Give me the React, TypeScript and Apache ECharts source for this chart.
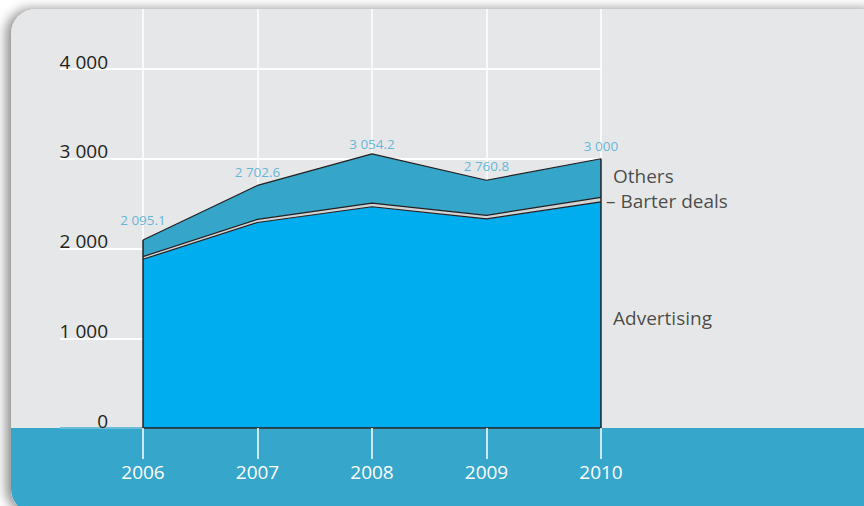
import React, { useEffect, useRef } from "react";
import * as echarts from "echarts";

const years = ["2006", "2007", "2008", "2009", "2010"];
const totals = [2095.1, 2702.6, 3054.2, 2760.8, 3000];
const advertising = [1880, 2290, 2465, 2330, 2520];
const barter = [30, 35, 40, 40, 50];
const others = totals.map((t, i) => +(t - advertising[i] - barter[i]).toFixed(1));
const seriesNames = ["Advertising", "– Barter deals", "Others"];

const fmt = (v: number) => {
  const [i, d] = String(v).split(".");
  return i.replace(/\B(?=(\d{3})+(?!\d))/g, " ") + (d ? "." + d : "");
};

const FONT = "'Open Sans', 'DejaVu Sans', sans-serif";
const DARK = "#231f20";
const labelDistances = [13, 6, 3, 7, 6];
const nameOffsets = [[0, 3], [0, 1], [0, -2]];

export default function App() {
  const ref = useRef<HTMLDivElement>(null);
  useEffect(() => {
    if (!ref.current) return;
    const chart = echarts.init(ref.current, undefined, { renderer: "svg" });
    const last = years.length - 1;
    const mid = [
      advertising[last] / 2,
      advertising[last] + barter[last] / 2,
      advertising[last] + barter[last] + others[last] / 2,
    ];
    chart.setOption({
      animation: false,
      backgroundColor: "#ffffff",
      textStyle: { fontFamily: FONT },
      graphic: [
        {
          type: "rect",
          z: -10,
          shape: { x: 11, y: 9, width: 870, height: 505, r: [25, 12, 0, 25] },
          style: {
            fill: "#e6e7e8",
            shadowBlur: 12,
            shadowOffsetX: -5,
            shadowOffsetY: 0,
            shadowColor: "rgba(0,0,0,0.45)",
          },
        },
        {
          type: "rect",
          z: -9,
          shape: { x: 11, y: 428, width: 870, height: 86, r: [0, 0, 0, 25] },
          style: { fill: "#37a6cb" },
        },
      ],
      grid: [
        { left: 143, width: 458, top: 69, height: 359 },
        { left: 60, width: 541, top: 69, height: 359 },
        { left: 143, width: 458, top: 9, height: 419 },
      ],
      xAxis: [
        {
          type: "category",
          gridIndex: 0,
          data: years,
          boundaryGap: false,
          axisLine: { show: true, lineStyle: { color: DARK, width: 1.5 } },
          axisTick: { show: true, length: 31, lineStyle: { color: "#ffffff", width: 1.5 } },
          axisLabel: {
            color: "#ffffff",
            fontSize: 19,
            fontFamily: FONT,
            margin: 34,
            lineHeight: 20,
          },
          splitLine: { show: false },
          z: 5,
        },
        { type: "value", gridIndex: 1, show: false, min: 0, max: 1 },
        {
          type: "category",
          gridIndex: 2,
          data: years,
          boundaryGap: false,
          axisLine: { show: false },
          axisTick: { show: false },
          axisLabel: { show: false },
          splitLine: { show: true, lineStyle: { color: "#ffffff", width: 1.5 } },
        },
      ],
      yAxis: [
        { type: "value", gridIndex: 0, min: 0, max: 4000, interval: 1000, show: false },
        {
          type: "value",
          gridIndex: 1,
          min: 0,
          max: 4000,
          interval: 1000,
          axisLine: { show: false },
          axisTick: { show: false },
          axisLabel: {
            inside: true,
            align: "right",
            verticalAlign: "bottom",
            margin: 48,
            lineHeight: 15,
            color: DARK,
            fontSize: 19,
            fontFamily: FONT,
            formatter: (v: number) => fmt(v),
          },
          splitLine: {
            show: true,
            lineStyle: { color: ["#6bbcd9", "#ffffff", "#ffffff", "#ffffff", "#ffffff"], width: 2 },
          },
        },
        { type: "value", gridIndex: 2, min: 0, max: 1, show: false },
      ],
      series: [
        {
          name: "Advertising",
          type: "line",
          xAxisIndex: 0,
          yAxisIndex: 0,
          stack: "total",
          data: advertising,
          symbol: "none",
          lineStyle: { color: DARK, width: 1.2 },
          areaStyle: { color: "#00aeef", opacity: 1 },
          z: 3,
        },
        {
          name: "Barter deals",
          type: "line",
          xAxisIndex: 0,
          yAxisIndex: 0,
          stack: "total",
          data: barter,
          symbol: "none",
          lineStyle: { color: DARK, width: 1.2 },
          areaStyle: { color: "#d1d3d4", opacity: 1 },
          z: 3,
        },
        {
          name: "Others",
          type: "line",
          xAxisIndex: 0,
          yAxisIndex: 0,
          stack: "total",
          data: others,
          symbol: "none",
          lineStyle: { color: DARK, width: 1.2 },
          areaStyle: { color: "#35a5ca", opacity: 1 },
          z: 3,
        },
        {
          name: "Totals",
          type: "scatter",
          xAxisIndex: 0,
          yAxisIndex: 0,
          symbolSize: 0,
          silent: true,
          data: totals.map((v, i) => ({
            value: [i, v],
            label: { distance: labelDistances[i] },
          })),
          label: {
            show: true,
            position: "top",
            color: "#3fa9d3",
            fontSize: 13.5,
            lineHeight: 14,
            fontFamily: FONT,
            formatter: (p: any) => fmt(p.value[1]),
          },
          z: 6,
        },
        {
          name: "edges",
          type: "custom",
          xAxisIndex: 0,
          yAxisIndex: 0,
          data: [
            [0, totals[0]],
            [last, totals[last]],
          ],
          renderItem: (params: any, api: any) => {
            const x = api.value(0);
            const y = api.value(1);
            const p0 = api.coord([x, 0]);
            const p1 = api.coord([x, y]);
            return {
              type: "line",
              shape: { x1: p0[0], y1: p0[1], x2: p1[0], y2: p1[1] },
              style: { stroke: DARK, lineWidth: 1.5 },
            };
          },
          z: 4,
        },
        {
          name: "names",
          type: "scatter",
          xAxisIndex: 0,
          yAxisIndex: 0,
          symbolSize: 0,
          silent: true,
          data: seriesNames.map((n, i) => ({
            name: n,
            value: [last, mid[i]],
            label: { distance: i === 1 ? 5 : 12, offset: nameOffsets[i] },
          })),
          label: {
            show: true,
            position: "right",
            color: DARK,
            fontSize: 19,
            lineHeight: 19,
            fontFamily: FONT,
            formatter: "{b}",
          },
          z: 6,
        },
      ],
    });
    return () => chart.dispose();
  }, []);
  return (
    <div
      ref={ref}
      style={{ position: "fixed", left: 0, top: 0, width: 864, height: 506 }}
    />
  );
}
